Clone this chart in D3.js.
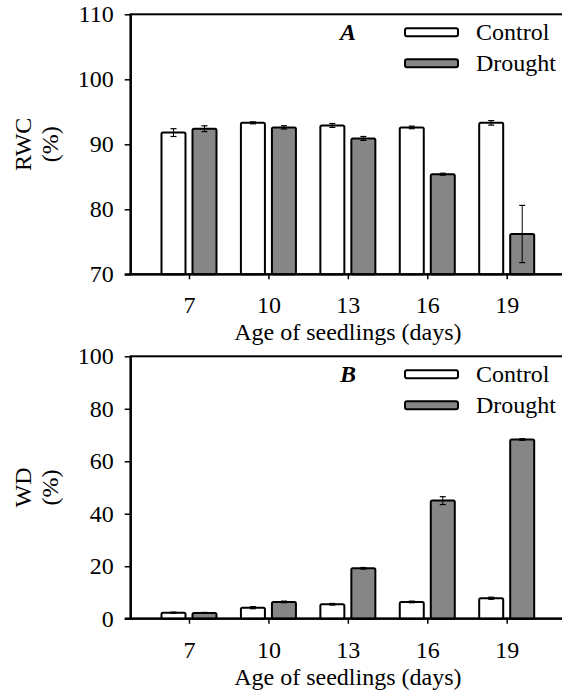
<!DOCTYPE html>
<html>
<head>
<meta charset="utf-8">
<script src="https://cdn.jsdelivr.net/npm/d3@7"></script>
<style>
  body { margin: 0; background: #fff; }
  svg { display: block; }
</style>
</head>
<body>
<script>
// data
var ages = ["7", "10", "13", "16", "19"];
var seriesNames = ["Control", "Drought"];

var rwcControl    = [91.8, 93.3, 92.9, 92.6, 93.3];
var rwcControlErr = [0.6, 0.15, 0.3, 0.2, 0.35];
var rwcDrought    = [92.4, 92.6, 90.9, 85.4, 76.2];
var rwcDroughtErr = [0.45, 0.25, 0.3, 0.15, 4.4];
var rwcTicks = [70, 80, 90, 100, 110];

var wdControl    = [2.3, 4.2, 5.5, 6.4, 7.8];
var wdControlErr = [0.2, 0.4, 0.3, 0.3, 0.4];
var wdDrought    = [2.2, 6.4, 19.2, 45.0, 68.3];
var wdDroughtErr = [0.2, 0.3, 0.3, 1.5, 0.3];
var wdTicks = [0, 20, 40, 60, 80, 100];

var width = 562, height = 693;
var left = 130.7, right = 565;
var serif = '"Liberation Serif", "Times New Roman", "DejaVu Serif", serif';

var svg = d3.select('body').append('svg')
            .attr('width', width)
            .attr('height', height)
            .attr('font-family', serif);

var x = d3.scalePoint()
          .domain(ages)
          .range([left, right])
          .padding(0.734);

var x1 = d3.scaleBand()
           .domain(seriesNames)
           .range([-27.5, 27.5])
           .paddingInner(0.226);

var fills = { Control: '#ffffff', Drought: '#868686' };

function drawPanel(cfg) {
    var y = d3.scaleLinear()
              .domain([cfg.ticks[0], cfg.ticks[cfg.ticks.length - 1]])
              .range([cfg.bottom, cfg.top]);

    var g = svg.append('g');

    // plot frame (right side runs off the page like the original)
    g.append('rect')
     .attr('x', left).attr('y', cfg.top)
     .attr('width', right - left).attr('height', cfg.bottom - cfg.top)
     .attr('fill', 'none').attr('stroke', '#000').attr('stroke-width', 2);

    var flat = [];
    ages.forEach(function(a, i) {
        flat.push({ age: a, s: 'Control', v: cfg.control[i], e: cfg.controlErr[i] });
        flat.push({ age: a, s: 'Drought', v: cfg.drought[i], e: cfg.droughtErr[i] });
    });

    g.selectAll('rect.bar').data(flat).enter().append('rect')
     .attr('class', 'bar')
     .attr('x', function(d) { return x(d.age) + x1(d.s); })
     .attr('y', function(d) { return y(d.v); })
     .attr('width', x1.bandwidth())
     .attr('height', function(d) { return cfg.bottom - y(d.v); })
     .attr('rx', 1.5)
     .attr('fill', function(d) { return fills[d.s]; })
     .attr('stroke', '#000').attr('stroke-width', 2);

    var eb = g.selectAll('g.err').data(flat).enter().append('g').attr('class', 'err')
              .attr('transform', function(d) {
                  return 'translate(' + (x(d.age) + x1(d.s) + x1.bandwidth() / 2) + ',0)';
              });
    eb.append('line')
      .attr('y1', function(d) { return y(d.v + d.e); })
      .attr('y2', function(d) { return y(d.v - d.e); })
      .attr('stroke', '#000').attr('stroke-width', 1);
    eb.selectAll('line.cap').data(function(d) { return [d.v + d.e, d.v - d.e]; })
      .enter().append('line').attr('class', 'cap')
      .attr('x1', -3).attr('x2', 3)
      .attr('y1', function(v) { return y(v); })
      .attr('y2', function(v) { return y(v); })
      .attr('stroke', '#000').attr('stroke-width', 1.2);

    var yAxis = d3.axisLeft(y).tickValues(cfg.ticks).tickSize(6).tickPadding(11);
    var ya = g.append('g').attr('transform', 'translate(' + left + ',0)').call(yAxis);
    var xAxis = d3.axisBottom(x).tickSize(5).tickPadding(17);
    var xa = g.append('g').attr('transform', 'translate(0,' + cfg.bottom + ')').call(xAxis);

    [ya, xa].forEach(function(a) {
        a.attr('font-family', serif).attr('font-size', 24);
        a.select('.domain').remove();
        a.selectAll('.tick line').attr('stroke', '#000').attr('stroke-width', 1.5);
        a.selectAll('.tick text').attr('fill', '#000');
    });

    // axis lines on top of everything
    g.append('line').attr('x1', left).attr('x2', left)
     .attr('y1', cfg.top).attr('y2', cfg.bottom)
     .attr('stroke', '#000').attr('stroke-width', 2.2);
    g.append('line').attr('x1', left - 6).attr('x2', right)
     .attr('y1', cfg.bottom).attr('y2', cfg.bottom)
     .attr('stroke', '#000').attr('stroke-width', 2.2);

    var midY = (cfg.top + cfg.bottom) / 2;
    g.append('text')
     .attr('transform', 'translate(31,' + midY + ') rotate(-90)')
     .attr('text-anchor', 'middle').attr('font-size', 24)
     .text(cfg.ylabel);
    g.append('text')
     .attr('transform', 'translate(58,' + midY + ') rotate(-90)')
     .attr('text-anchor', 'middle').attr('font-size', 24)
     .text('(%)');

    g.append('text')
     .attr('x', (left + right) / 2).attr('y', cfg.bottom + 66)
     .attr('text-anchor', 'middle').attr('font-size', 24)
     .text('Age of seedlings (days)');

    g.append('text')
     .attr('x', 348).attr('y', cfg.top + 26)
     .attr('text-anchor', 'middle')
     .attr('font-size', 24).attr('font-weight', 'bold').attr('font-style', 'italic')
     .text(cfg.letter);

    var lg = g.selectAll('g.leg').data(seriesNames).enter().append('g').attr('class', 'leg')
              .attr('transform', function(d, i) { return 'translate(405,' + (cfg.top + 18 + i * 31) + ')'; });
    lg.append('rect')
      .attr('x', 0).attr('y', -4).attr('width', 53).attr('height', 8).attr('rx', 2)
      .attr('fill', function(d) { return fills[d]; })
      .attr('stroke', '#000').attr('stroke-width', 2);
    lg.append('text')
      .attr('x', 71).attr('y', 8)
      .attr('font-size', 24)
      .text(function(d) { return d; });
}

drawPanel({
    top: 14.3, bottom: 274.3, ticks: rwcTicks, ylabel: 'RWC', letter: 'A',
    control: rwcControl, controlErr: rwcControlErr,
    drought: rwcDrought, droughtErr: rwcDroughtErr
});

drawPanel({
    top: 356.3, bottom: 618.7, ticks: wdTicks, ylabel: 'WD', letter: 'B',
    control: wdControl, controlErr: wdControlErr,
    drought: wdDrought, droughtErr: wdDroughtErr
});
</script>
</body>
</html>
